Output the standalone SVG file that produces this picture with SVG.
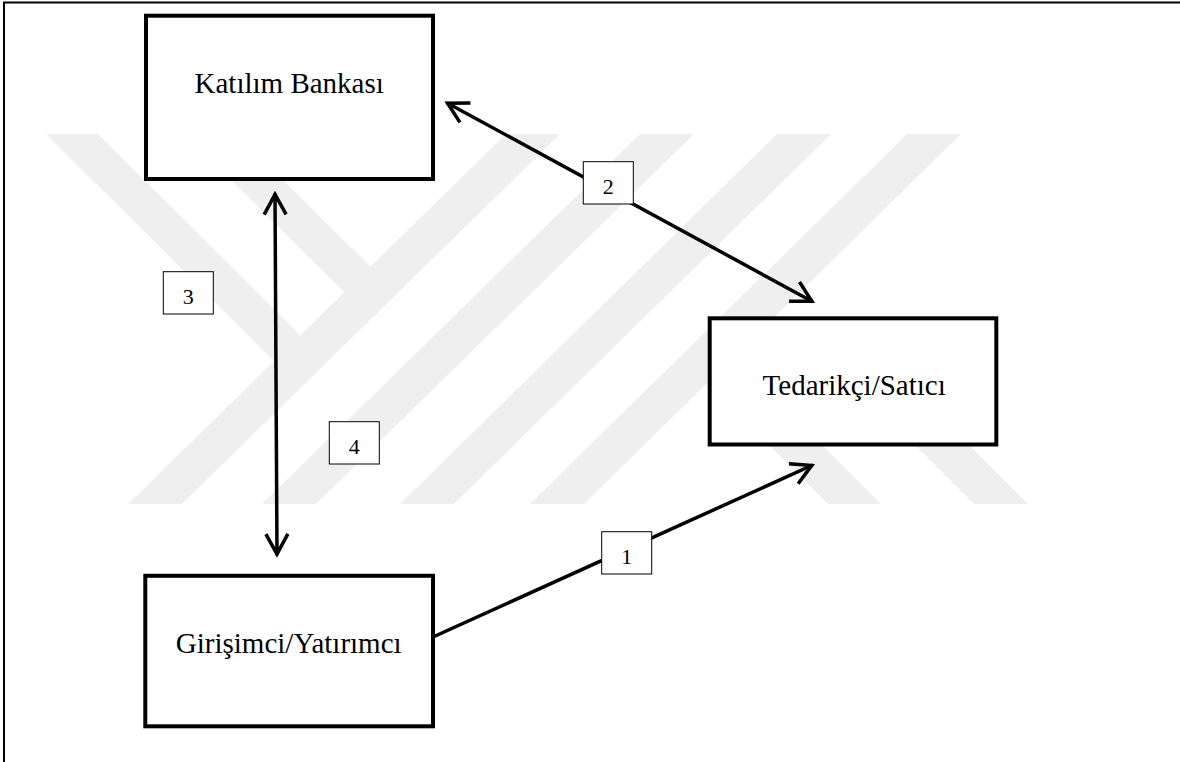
<svg xmlns="http://www.w3.org/2000/svg" width="1180" height="762" viewBox="0 0 1180 762">
<style>
.frame{stroke:#000;stroke-width:2;fill:none}
.wm{fill:#efefef}
.node rect{fill:#fff;stroke:#000;stroke-width:4}
.node text{font-family:"Liberation Serif","Times New Roman",serif;font-size:29px;fill:#000;text-anchor:middle}
.conn{stroke:#000;stroke-width:3.5;fill:none}
.lbl rect{fill:#fff;stroke:#000;stroke-width:1}
.lbl text{font-family:"Liberation Serif","Times New Roman",serif;font-size:22px;fill:#000;text-anchor:middle}
</style>
<defs>
<marker id="ah" markerUnits="userSpaceOnUse" viewBox="-30 -15 34 30" refX="0" refY="0" markerWidth="34" markerHeight="30" orient="auto-start-reverse" overflow="visible">
<path d="M-21,-11 L-1,0 L-21,11" fill="none" stroke="#000" stroke-width="3.5" stroke-linejoin="miter" stroke-linecap="butt"/>
</marker>
</defs>
<rect width="1180" height="762" fill="#fff"/>
<g id="frame">
<path class="frame" d="M4,762 V2.5 H1180"/>
</g>
<g id="watermark">
<polygon class="wm" points="46,134 98,134 310,345 284,371"/>
<polygon class="wm" points="185,134 237,134 384,280 357,305"/>
<polygon class="wm" points="128,504 182,504 560,134 506,134"/>
<polygon class="wm" points="262,504 316,504 694,134 640,134"/>
<polygon class="wm" points="400,504 454,504 831,134 777,134"/>
<polygon class="wm" points="530,504 584,504 961,134 907,134"/>
<polygon class="wm" points="694,370 747,370 881,504 828,504"/>
<polygon class="wm" points="810,340 864,340 1028,504 974,504"/>
</g>
<g id="connectors">
<line class="conn" x1="446.7" y1="102.7" x2="812.7" y2="301.7" marker-start="url(#ah)" marker-end="url(#ah)"/>
<line class="conn" x1="275" y1="193.5" x2="277" y2="555" marker-start="url(#ah)" marker-end="url(#ah)"/>
<line class="conn" x1="433" y1="637" x2="812.7" y2="465" marker-end="url(#ah)"/>
<g class="lbl" id="label-1"><rect x="601.7" y="531.7" width="50" height="42.3"/><text x="626.7" y="564">1</text></g>
<g class="lbl" id="label-2"><rect x="583.3" y="161.7" width="50" height="42.3"/><text x="608.3" y="194">2</text></g>
<g class="lbl" id="label-3"><rect x="163.3" y="271.7" width="50" height="42.3"/><text x="188.3" y="304">3</text></g>
<g class="lbl" id="label-4"><rect x="329.3" y="421.7" width="50" height="42.3"/><text x="354.3" y="454">4</text></g>
</g>
<g class="node" id="katilim-bankasi">
<rect x="146" y="15.7" width="287" height="163.3"/>
<text x="289.2" y="93.3">Katılım Bankası</text>
</g>
<g class="node" id="tedarikci-satici">
<rect x="709.7" y="318.3" width="286.6" height="126.2"/>
<text x="854.2" y="395">Tedarikçi/Satıcı</text>
</g>
<g class="node" id="girisimci-yatirimci">
<rect x="145.3" y="575.8" width="287.7" height="150.5"/>
<text x="288.7" y="652.7">Girişimci/Yatırımcı</text>
</g>
</svg>
